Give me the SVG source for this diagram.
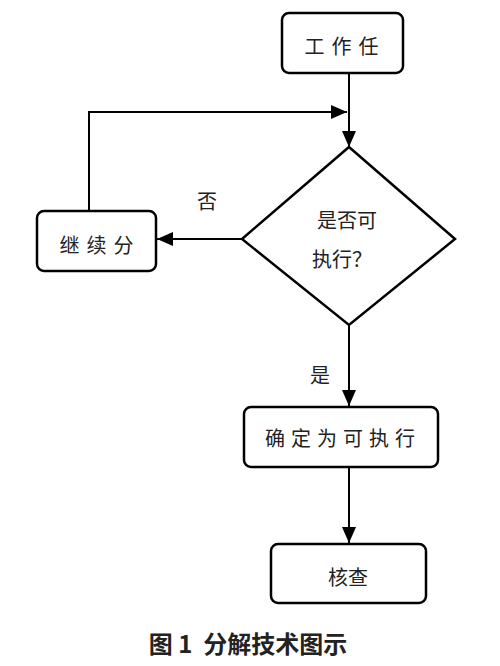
<svg xmlns="http://www.w3.org/2000/svg" width="500" height="666" viewBox="0 0 500 666">
<style>
.box{fill:#fff;stroke:#000;stroke-width:2.5}
.ln{fill:none;stroke:#000;stroke-width:2}
.t{font-family:"Noto Sans CJK SC","Noto Sans",sans-serif;font-size:20px;fill:#222;text-anchor:middle;dominant-baseline:central}
.cap{font-family:"Noto Sans CJK SC","Noto Sans",sans-serif;font-size:24px;font-weight:bold;fill:#222;text-anchor:middle;dominant-baseline:central}
</style>
<defs>
<marker id="ahb" markerWidth="16" markerHeight="14" viewBox="0 0 16 14" refX="16" refY="7" orient="auto" markerUnits="userSpaceOnUse">
<path d="M0,0 L16,7 L0,14 Z" fill="#000"/>
</marker>
</defs>
<g id="connectors">
<line class="ln" x1="349" y1="73" x2="349" y2="147" marker-end="url(#ahb)"/>
<polyline class="ln" points="89,211 89,112 347,112" marker-end="url(#ahb)"/>
<line class="ln" x1="242" y1="239" x2="157" y2="239" marker-end="url(#ahb)"/>
<line class="ln" x1="349" y1="325" x2="349" y2="406" marker-end="url(#ahb)"/>
<line class="ln" x1="349" y1="467" x2="349" y2="543" marker-end="url(#ahb)"/>
<text class="t" x="207" y="200">否</text>
<text class="t" x="320" y="374">是</text>
</g>
<g id="n1">
<rect class="box" x="282" y="13" width="121" height="60" rx="7"/>
<text class="t" x="345" y="45" letter-spacing="7">工作任</text>
</g>
<g id="n2">
<rect class="box" x="37" y="211" width="119" height="60" rx="7"/>
<text class="t" x="100" y="244" letter-spacing="7">继续分</text>
</g>
<g id="n3">
<polygon class="box" points="349,147 455,239 349,325 242,239"/>
<text class="t" x="347" y="219">是否可</text>
<text class="t" x="342" y="258">执行？</text>
</g>
<g id="n4">
<rect class="box" x="244" y="407" width="194" height="60" rx="7"/>
<text class="t" x="343" y="437" letter-spacing="6">确定为可执行</text>
</g>
<g id="n5">
<rect class="box" x="271" y="544" width="155" height="59" rx="7"/>
<text class="t" x="348" y="576">核查</text>
</g>
<text class="cap" x="248" y="642" xml:space="preserve">图 1  分解技术图示</text>
</svg>
